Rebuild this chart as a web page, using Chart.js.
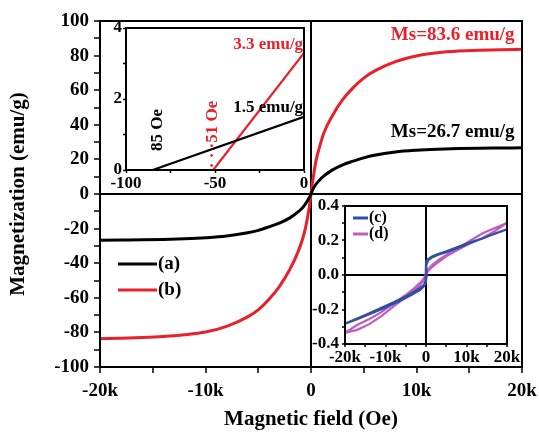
<!DOCTYPE html>
<html>
<head>
<meta charset="utf-8">
<script src="https://cdn.jsdelivr.net/npm/chart.js@4.4.1/dist/chart.umd.min.js"></script>
<style>
  html, body { margin: 0; padding: 0; background: #fff; }
  #wrap { position: relative; width: 539px; height: 434px; }
  #wrap canvas { position: absolute; }
</style>
</head>
<body>
<div id="wrap">
  <canvas id="main" width="539" height="434" style="left:0;top:0"></canvas>
  <canvas id="low" width="220" height="188" style="left:90px;top:12px"></canvas>
  <canvas id="loop" width="225" height="180" style="left:300px;top:190px"></canvas>
</div>
<script>
// M-H curves of samples (a) and (b), field in Oe, magnetization in emu/g
const fieldMain = [-20000, -18000, -16000, -14000, -12000, -10000, -8000, -6000, -5000, -4000, -3000, -2000, -1200, -800, -500, -200, 0,
                   200, 500, 800, 1200, 2000, 3000, 4000, 5000, 6000, 8000, 10000, 12000, 14000, 16000, 18000, 20000];
const magA = [-26.7, -26.6, -26.5, -26.3, -25.9, -25.3, -24.3, -22.4, -21.0, -19.0, -16.8, -13.8, -10.2, -8.0, -5.5, -2.5, 0,
              3.0, 5.8, 8.0, 10.3, 13.8, 16.9, 19.0, 20.9, 22.4, 24.3, 25.3, 25.9, 26.3, 26.5, 26.6, 26.7];
const magB = [-83.6, -83.4, -83.0, -82.4, -81.4, -79.8, -76.5, -71.0, -67.0, -61.0, -53.5, -43.5, -33.0, -26.0, -19.0, -9.0, 0,
              9.0, 20.0, 27.0, 35.0, 45.0, 54.5, 61.5, 67.0, 71.0, 76.5, 79.8, 81.6, 82.6, 83.1, 83.4, 83.6];
const seriesMain = ["(a)", "(b)"];

// low-field part near the coercive field (Oe, emu/g)
const lowFieldA = [-85, 0];
const lowMagA = [0, 1.5];
const lowFieldB = [-51, 0];
const lowMagB = [0, 3.3];

// full loops of samples (c) and (d): down branch then up branch
const loopField = [20000, 17000, 14000, 11000, 8000, 5000, 3000, 1500, 500, 100, 0, -100, -500, -1500, -3000, -5000, -8000, -11000, -14000, -17000, -20000,
                   -17000, -14000, -11000, -8000, -5000, -3000, -1500, -500, -100, 0, 100, 500, 1500, 3000, 5000, 8000, 11000, 14000, 17000, 20000];
const magC = [0.265, 0.240, 0.212, 0.190, 0.163, 0.137, 0.122, 0.108, 0.092, 0.082, 0.070, -0.035, -0.058, -0.075, -0.098, -0.125, -0.158, -0.190, -0.222, -0.252, -0.282,
              -0.256, -0.228, -0.198, -0.166, -0.133, -0.108, -0.088, -0.066, -0.052, -0.020, 0.058, 0.085, 0.102, 0.118, 0.132, 0.158, 0.186, 0.213, 0.240, 0.265];
const magD = [0.302, 0.272, 0.242, 0.200, 0.158, 0.116, 0.086, 0.058, 0.032, 0.015, 0.008, 0.000, -0.018, -0.046, -0.078, -0.116, -0.165, -0.215, -0.255, -0.290, -0.335,
              -0.318, -0.285, -0.238, -0.182, -0.130, -0.092, -0.058, -0.030, -0.012, -0.005, 0.008, 0.022, 0.046, 0.074, 0.108, 0.148, 0.185, 0.215, 0.255, 0.302];
const seriesLoop = ["(c)", "(d)"];

const RED = "#e8202a", BLUE = "#2f4fa3", PURPLE = "#c25cbe";
const SERIF = "'Liberation Serif', 'Times New Roman', serif";

Chart.defaults.font.family = SERIF;
Chart.defaults.font.weight = "bold";
Chart.defaults.color = "#000";

function pts(xs, ys) {
    return xs.map((x, i) => ({ x: x, y: ys[i] }));
}

function kLabel(v) {
    if (v % 10000 !== 0) return "";
    return v === 0 ? "0" : (v / 1000) + "k";
}

// fixed axis box; end labels may hang over the layout padding
function fixX(h) {
    return s => { s.height = h; s.paddingLeft = 0; s.paddingRight = 0; };
}
function fixY(w) {
    return s => { s.width = w; s.paddingTop = 0; s.paddingBottom = 0; };
}

// only the zero grid line is drawn, as a black cross line
const zeroLine = c => (c.tick && c.tick.value === 0) ? "#000" : "rgba(0,0,0,0)";
const axisBorder = { color: "#000", width: 2 };

// box frame, hand-made legend and text notes
const decor = {
    id: "decor",
    afterDatasetsDraw(chart, args, opts) {
        const ctx = chart.ctx, a = chart.chartArea;
        const sx = chart.scales.x, sy = chart.scales.y;
        ctx.save();
        ctx.strokeStyle = "#000";
        ctx.lineWidth = opts.frame;
        ctx.strokeRect(a.left, a.top, a.right - a.left, a.bottom - a.top);

        if (opts.legend) {
            const L = opts.legend;
            ctx.font = "bold " + L.size + "px " + SERIF;
            ctx.textBaseline = "middle";
            ctx.textAlign = "left";
            chart.data.datasets.forEach((ds, i) => {
                const x = a.left + L.x, y = a.top + L.y + i * L.gap;
                ctx.strokeStyle = ds.borderColor;
                ctx.lineWidth = L.width;
                ctx.beginPath();
                ctx.moveTo(x, y);
                ctx.lineTo(x + L.len, y);
                ctx.stroke();
                ctx.fillStyle = "#000";
                ctx.fillText(ds.label, x + L.len + 1, y);
            });
        }

        (opts.notes || []).forEach(n => {
            ctx.save();
            ctx.font = "bold " + n.size + "px " + SERIF;
            ctx.fillStyle = n.color;
            ctx.textAlign = n.align || "center";
            ctx.textBaseline = "middle";
            ctx.translate(sx.getPixelForValue(n.x), sy.getPixelForValue(n.y));
            if (n.rotate) ctx.rotate(-Math.PI / 2);
            ctx.fillText(n.text, 0, 0);
            ctx.restore();
        });
        ctx.restore();
    }
};

new Chart(document.getElementById("main"), {
    type: "line",
    data: {
        datasets: [
            { label: seriesMain[0], data: pts(fieldMain, magA), borderColor: "#000", borderWidth: 3, pointRadius: 0, cubicInterpolationMode: "monotone" },
            { label: seriesMain[1], data: pts(fieldMain, magB), borderColor: RED, borderWidth: 3, pointRadius: 0, cubicInterpolationMode: "monotone" }
        ]
    },
    options: {
        responsive: false,
        animation: false,
        layout: { padding: { top: 21, right: 17, left: 0, bottom: 0 } },
        scales: {
            x: {
                type: "linear", min: -20000, max: 20000,
                afterFit: fixX(67),
                ticks: { stepSize: 5000, autoSkip: false, maxRotation: 0, padding: 7, font: { size: 19 }, callback: kLabel },
                grid: { color: zeroLine, lineWidth: 2, tickColor: "#000", tickLength: 6, tickWidth: 1.5 },
                border: axisBorder,
                title: { display: true, text: "Magnetic field (Oe)", font: { size: 21 }, padding: { top: 0, bottom: 2 } }
            },
            y: {
                min: -100, max: 100,
                afterFit: fixY(100),
                ticks: { stepSize: 10, autoSkip: false, padding: 5, font: { size: 19 }, callback: v => v % 20 === 0 ? String(v) : "" },
                grid: { color: zeroLine, lineWidth: 2, tickColor: "#000", tickLength: 6, tickWidth: 1.5 },
                border: axisBorder,
                title: { display: true, text: "Magnetization (emu/g)", font: { size: 21 }, padding: { top: 6, bottom: 0 } }
            }
        },
        plugins: {
            legend: { display: false },
            tooltip: { enabled: false },
            decor: {
                frame: 2,
                legend: { x: 18, y: 243, gap: 26, len: 39, width: 3, size: 19 },
                notes: [
                    { text: "Ms=" + magB[magB.length - 1].toFixed(1) + " emu/g", x: 19300, y: 92, color: RED, size: 19, align: "right" },
                    { text: "Ms=" + magA[magA.length - 1].toFixed(1) + " emu/g", x: 19300, y: 35.5, color: "#000", size: 19, align: "right" }
                ]
            }
        }
    },
    plugins: [decor]
});

new Chart(document.getElementById("low"), {
    type: "line",
    data: {
        datasets: [
            { label: seriesMain[0], data: pts(lowFieldA, lowMagA), borderColor: "#000", borderWidth: 2.2, pointRadius: 0 },
            { label: seriesMain[1], data: pts(lowFieldB, lowMagB), borderColor: RED, borderWidth: 2.2, pointRadius: 0 }
        ]
    },
    options: {
        responsive: false,
        animation: false,
        layout: { padding: { top: 16, right: 6, left: 0, bottom: 0 } },
        scales: {
            x: {
                type: "linear", min: -100, max: 0,
                afterFit: fixX(30),
                ticks: { stepSize: 25, autoSkip: false, maxRotation: 0, padding: 0, font: { size: 17 }, callback: v => v % 50 === 0 ? String(v) : "" },
                grid: { drawOnChartArea: false, tickColor: "#000", tickLength: 3, tickWidth: 1.5 },
                border: axisBorder
            },
            y: {
                min: 0, max: 4,
                afterFit: fixY(36),
                ticks: { stepSize: 1, autoSkip: false, padding: 1, font: { size: 17 }, callback: v => v % 2 === 0 ? String(v) : "" },
                grid: { drawOnChartArea: false, tickColor: "#000", tickLength: 3, tickWidth: 1.5 },
                border: axisBorder
            }
        },
        plugins: {
            legend: { display: false },
            tooltip: { enabled: false },
            decor: {
                frame: 2,
                notes: [
                    { text: lowMagB[1].toFixed(1) + " emu/g", x: -0.5, y: 3.52, color: RED, size: 17, align: "right" },
                    { text: lowMagA[1].toFixed(1) + " emu/g", x: -0.5, y: 1.77, color: "#000", size: 17, align: "right" },
                    { text: Math.abs(lowFieldA[0]) + " Oe", x: -82, y: 1.13, color: "#000", size: 17, rotate: true },
                    { text: "· · ·" + Math.abs(lowFieldB[0]) + " Oe", x: -51.5, y: 0.05, color: RED, size: 17, rotate: true, align: "left" }
                ]
            }
        }
    },
    plugins: [decor]
});

new Chart(document.getElementById("loop"), {
    type: "line",
    data: {
        datasets: [
            { label: seriesLoop[0], data: pts(loopField, magC), borderColor: BLUE, borderWidth: 2.2, pointRadius: 0, tension: 0 },
            { label: seriesLoop[1], data: pts(loopField, magD), borderColor: PURPLE, borderWidth: 2.2, pointRadius: 0, tension: 0 }
        ]
    },
    options: {
        responsive: false,
        animation: false,
        layout: { padding: { top: 16, right: 18, left: 0, bottom: 0 } },
        scales: {
            x: {
                type: "linear", min: -20000, max: 20000,
                afterFit: fixX(26),
                ticks: { stepSize: 5000, autoSkip: false, maxRotation: 0, padding: 0, font: { size: 17 }, callback: kLabel },
                grid: { color: zeroLine, lineWidth: 2, tickColor: "#000", tickLength: 3, tickWidth: 1.5 },
                border: axisBorder
            },
            y: {
                min: -0.4, max: 0.4,
                afterFit: fixY(45),
                ticks: {
                    stepSize: 0.1, autoSkip: false, padding: 3, font: { size: 17 },
                    callback: v => Math.round(v * 10) % 2 === 0 ? (Math.abs(v) < 1e-9 ? "0.0" : v.toFixed(1)) : ""
                },
                grid: { color: zeroLine, lineWidth: 2, tickColor: "#000", tickLength: 3, tickWidth: 1.5 },
                border: axisBorder
            }
        },
        plugins: {
            legend: { display: false },
            tooltip: { enabled: false },
            decor: {
                frame: 2,
                legend: { x: 8, y: 12, gap: 16, len: 15, width: 3, size: 16 }
            }
        }
    },
    plugins: [decor]
});
</script>
</body>
</html>
